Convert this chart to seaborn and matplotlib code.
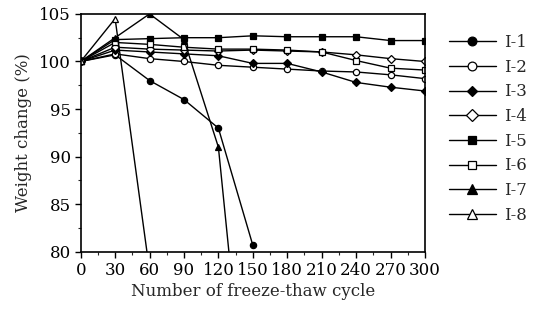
import numpy as np
import pandas as pd
import matplotlib.pyplot as plt
import seaborn as sns

# Data
cycles = [0, 30, 60, 90, 120, 150, 180, 210, 240, 270, 300]
i1 = [100, 100.7, 98.0, 96.0, 93.0, 80.7]
i2 = [100, 100.8, 100.3, 100.0, 99.6, 99.4, 99.2, 99.0, 98.9, 98.6, 98.2]
i3 = [100, 101.2, 101.0, 100.8, 100.6, 99.8, 99.8, 98.9, 97.8, 97.3, 96.9]
i4 = [100, 101.5, 101.3, 101.2, 101.1, 101.2, 101.1, 101.0, 100.7, 100.3, 100.0]
i5 = [100, 102.3, 102.4, 102.5, 102.5, 102.7, 102.6, 102.6, 102.6, 102.2, 102.2]
i6 = [100, 102.0, 101.8, 101.5, 101.3, 101.3, 101.2, 101.0, 100.1, 99.3, 99.1]
i7 = [100, 102.5, 105.0, 102.3, 91.0, 55.0]
i8 = [100, 104.5, 78.0]

labels = ['I-1', 'I-2', 'I-3', 'I-4', 'I-5', 'I-6', 'I-7', 'I-8']
series = [i1, i2, i3, i4, i5, i6, i7, i8]
markers = ['o', 'o', 'D', 'D', 's', 's', '^', '^']
filled = [True, False, True, False, True, False, True, False]
msizes = [4.5, 4.5, 4, 4.5, 4.5, 4.5, 5, 5]

sns.set_style('ticks')
plt.rcParams['font.family'] = ['DejaVu Serif']

fig = plt.figure(figsize=(5.49, 3.16), dpi=100)
ax = fig.add_axes([0.147, 0.203, 0.627, 0.753])

for lab, ys, m, f, ms in zip(labels, series, markers, filled, msizes):
    df = pd.DataFrame({'Cycle': cycles[:len(ys)], 'Weight': ys})
    sns.lineplot(x='Cycle', y='Weight', data=df, ax=ax, color='black', linewidth=1.0,
                 marker=m, markersize=ms, markeredgecolor='black', markeredgewidth=0.9,
                 markerfacecolor='black' if f else 'white', label=lab)

ax.set_xlim(0, 300)
ax.set_ylim(80, 105)
ax.set_xticks(np.arange(0, 301, 30))
ax.set_xticks(np.arange(0, 301, 15), minor=True)
ax.set_yticks(np.arange(80, 106, 5))
ax.set_yticks(np.arange(80, 106, 2.5), minor=True)
ax.tick_params(axis='both', which='major', direction='out', length=4, width=1, labelsize=12,
               colors='black', pad=3)
ax.tick_params(axis='both', which='minor', direction='out', length=2.5, width=0.8)
for s in ax.spines.values():
    s.set_linewidth(1.2)
    s.set_color('black')

ax.set_xlabel('Number of freeze-thaw cycle', fontsize=12, labelpad=3)
ax.set_ylabel('Weight change (%)', fontsize=12, labelpad=5)

ax.legend(loc='upper left', bbox_to_anchor=(0.818, 0.892), bbox_transform=fig.transFigure,
          frameon=False, fontsize=12, handlelength=2.8, handletextpad=0.5, markerscale=1.4,
          labelspacing=0.46, borderpad=0, borderaxespad=0)

plt.savefig('out.png', dpi=100)
